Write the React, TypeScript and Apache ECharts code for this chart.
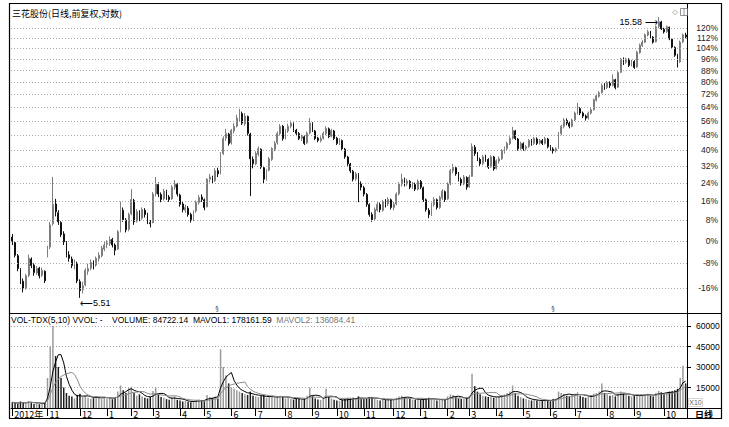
import React, { useEffect, useRef } from 'react';
import * as echarts from 'echarts';

const chartTitle = '三花股份(日线,前复权,对数)';
const volHeaderMain = 'VOL-TDX(5,10) VVOL: -    VOLUME: 84722.14  MAVOL1: 178161.59  ';
const volHeaderMa2 = 'MAVOL2: 136084.41';
const basePrice = 6.8;
const pctLevels = [120, 112, 104, 96, 88, 80, 72, 64, 56, 48, 40, 32, 24, 16, 8, 0, -8, -16];
const monthStartIdx = [0, 13, 25, 35, 44, 52, 62, 71, 81, 90, 101, 111, 120, 130, 141, 151, 161, 169, 179, 189, 199, 208, 220, 230, 241];
const monthLabels = ['2012年', '11', '12', '1', '2', '3', '4', '5', '6', '7', '8', '9', '10', '11', '12', '1', '2', '3', '4', '5', '6', '7', '8', '9', '10'];

// [open, close, low, high]
const candles: number[][] = [
  [6.90,6.78,6.70,6.98],[6.76,6.45,6.40,6.80],[6.44,6.14,6.08,6.48],[6.12,5.87,5.80,6.15],[5.86,5.70,5.62,5.92],[5.72,5.98,5.68,6.02],[5.99,6.38,5.95,6.47],[6.36,6.21,6.15,6.40],[6.22,6.05,5.98,6.26],[6.04,6.14,6.00,6.20],
  [6.15,5.98,5.92,6.18],[5.99,6.10,5.95,6.16],[6.08,5.87,5.82,6.10],[6.45,6.62,6.40,6.68],[6.65,7.22,6.60,7.30],[7.25,7.79,7.20,8.62],[7.80,7.58,7.45,7.95],[7.55,7.30,7.22,7.62],[7.28,6.96,6.90,7.32],[6.98,6.78,6.70,7.05],
  [6.76,6.45,6.40,6.80],[6.46,6.38,6.30,6.55],[6.36,6.21,6.15,6.42],[6.20,6.28,6.12,6.35],[6.26,5.87,5.82,6.30],[5.85,5.66,5.51,5.90],[5.68,5.76,5.60,5.85],[5.78,6.10,5.75,6.15],[6.08,6.14,6.00,6.25],[6.15,6.28,6.10,6.35],
  [6.27,6.21,6.12,6.33],[6.22,6.38,6.18,6.42],[6.37,6.45,6.30,6.52],[6.44,6.62,6.40,6.68],[6.60,6.70,6.55,6.78],[6.72,6.75,6.62,6.82],[6.74,6.83,6.68,6.92],[6.84,6.70,6.64,6.88],[6.70,6.57,6.45,6.74],[6.60,7.04,6.58,7.08],
  [7.05,7.64,7.02,7.87],[7.62,7.36,7.30,7.70],[7.35,7.09,7.02,7.40],[7.10,7.50,7.05,7.55],[7.52,7.93,7.48,8.24],[7.90,7.30,7.22,7.95],[7.32,7.58,7.28,7.65],[7.56,7.41,7.32,7.62],[7.40,7.64,7.36,7.70],[7.62,7.50,7.42,7.68],
  [7.50,7.30,7.24,7.55],[7.28,7.25,7.15,7.35],[7.28,8.09,7.26,8.15],[8.10,8.40,8.02,8.62],[8.38,8.09,8.00,8.45],[8.08,7.93,7.85,8.14],[7.95,8.18,7.90,8.25],[8.16,7.99,7.92,8.22],[8.00,7.93,7.86,8.06],[7.95,8.30,7.92,8.36],
  [8.30,8.40,8.22,8.52],[8.38,8.09,8.02,8.42],[8.06,7.79,7.72,8.10],[7.80,7.64,7.56,7.86],[7.62,7.70,7.55,7.78],[7.68,7.50,7.44,7.74],[7.50,7.36,7.28,7.55],[7.36,7.58,7.32,7.62],[7.60,7.85,7.55,7.90],[7.84,7.99,7.78,8.06],
  [8.00,7.93,7.86,8.08],[7.92,7.70,7.62,7.96],[7.72,8.55,7.70,8.58],[8.55,8.62,8.45,8.72],[8.60,8.49,8.40,8.66],[8.50,8.82,8.46,8.90],[8.82,8.72,8.62,8.92],[8.74,9.40,8.70,9.45],[9.40,9.94,9.35,10.02],[9.95,10.13,9.85,10.30],
  [10.10,9.76,9.68,10.15],[9.78,10.24,9.72,10.30],[10.22,10.40,10.12,10.52],[10.40,10.72,10.35,10.85],[10.70,10.92,10.60,11.09],[10.90,10.52,10.45,10.98],[10.50,10.80,10.42,10.92],[10.78,10.13,10.05,10.82],[10.10,9.22,8.03,10.15],[9.20,9.05,8.90,9.30],
  [9.05,9.40,9.00,9.48],[9.38,9.57,9.30,9.65],[9.55,8.94,8.88,9.58],[8.92,8.55,8.40,8.98],[8.55,8.82,8.50,8.88],[8.84,9.22,8.80,9.28],[9.20,9.57,9.15,9.62],[9.55,9.76,9.48,9.85],[9.78,10.13,9.72,10.20],[10.12,10.40,10.05,10.48],
  [10.40,9.94,9.86,10.45],[9.96,10.24,9.90,10.30],[10.22,10.40,10.15,10.50],[10.40,10.52,10.32,10.62],[10.50,10.24,10.18,10.55],[10.25,10.13,10.05,10.30],[10.12,9.94,9.88,10.18],[9.95,10.01,9.85,10.08],[10.00,9.76,9.70,10.05],[9.78,10.13,9.74,10.20],
  [10.15,10.52,10.10,10.72],[10.50,10.24,10.18,10.56],[10.22,9.94,9.88,10.26],[9.95,9.87,9.80,10.00],[9.86,9.94,9.80,10.02],[9.95,10.13,9.90,10.20],[10.12,10.32,10.06,10.40],[10.30,10.01,9.95,10.35],[10.02,10.24,9.98,10.30],[10.22,9.94,9.88,10.26],
  [9.95,9.76,9.70,10.00],[9.75,9.87,9.70,9.95],[9.86,9.57,9.50,9.90],[9.55,9.29,9.22,9.60],[9.28,9.05,8.98,9.32],[9.04,8.82,8.75,9.08],[8.80,8.55,8.48,8.85],[8.56,8.72,8.50,8.78],[8.70,8.40,7.85,8.74],[8.40,8.30,8.20,8.48],
  [8.28,8.09,8.02,8.34],[8.08,7.79,7.72,8.12],[7.78,7.50,7.44,7.82],[7.50,7.36,7.30,7.56],[7.38,7.64,7.34,7.70],[7.62,7.79,7.58,7.86],[7.78,7.64,7.56,7.84],[7.62,7.87,7.58,7.92],[7.86,7.79,7.70,7.94],[7.80,7.93,7.74,8.00],
  [7.92,7.70,7.64,7.96],[7.70,7.79,7.62,7.86],[7.80,8.09,7.76,8.14],[8.10,8.40,8.05,8.46],[8.40,8.55,8.32,8.72],[8.54,8.40,8.32,8.60],[8.40,8.49,8.34,8.56],[8.48,8.30,8.24,8.52],[8.30,8.40,8.25,8.46],[8.38,8.24,8.18,8.44],
  [8.24,8.49,8.20,8.54],[8.48,8.30,8.24,8.52],[8.28,7.93,7.86,8.32],[7.92,7.64,7.58,7.96],[7.62,7.50,7.40,7.68],[7.50,7.79,7.46,7.84],[7.78,7.93,7.72,8.00],[7.92,7.70,7.64,7.96],[7.70,7.99,7.66,8.04],[7.98,8.18,7.92,8.24],
  [8.16,7.93,7.86,8.20],[7.95,8.40,7.92,8.45],[8.40,8.82,8.36,8.88],[8.82,8.94,8.74,9.05],[8.92,8.72,8.66,8.98],[8.72,8.55,8.48,8.78],[8.54,8.40,8.34,8.60],[8.40,8.62,8.36,8.68],[8.60,8.30,8.22,8.64],[8.32,8.62,8.28,8.68],
  [8.64,9.64,8.62,9.76],[9.62,9.40,9.32,9.70],[9.38,9.22,9.14,9.45],[9.20,9.05,8.98,9.26],[9.06,9.29,9.00,9.36],[9.28,9.22,9.12,9.36],[9.20,8.94,8.88,9.24],[8.95,9.29,8.92,9.34],[9.28,8.88,8.82,9.32],[8.90,9.15,8.86,9.20],
  [9.14,9.22,9.06,9.30],[9.22,9.50,9.18,9.56],[9.48,9.57,9.40,9.65],[9.58,9.76,9.52,9.82],[9.75,9.94,9.70,10.02],[9.95,10.24,9.90,10.38],[10.22,9.94,9.88,10.26],[9.92,9.57,9.50,9.96],[9.58,9.76,9.52,9.82],[9.75,9.57,9.50,9.80],
  [9.58,9.64,9.50,9.70],[9.65,9.87,9.60,9.92],[9.86,9.76,9.68,9.92],[9.76,9.94,9.70,10.00],[9.92,9.76,9.70,9.98],[9.78,9.87,9.72,9.92],[9.86,9.76,9.70,9.92],[9.76,9.94,9.72,10.00],[9.92,9.64,9.58,9.96],[9.64,9.57,9.50,9.70],
  [9.56,9.50,9.40,9.62],[9.50,9.57,9.44,9.62],[9.58,10.13,9.56,10.18],[10.12,10.40,10.06,10.46],[10.40,10.64,10.32,10.72],[10.62,10.52,10.44,10.70],[10.52,10.40,10.32,10.58],[10.40,10.64,10.36,10.70],[10.65,10.92,10.60,10.98],[10.92,11.13,10.86,11.34],
  [11.10,10.92,10.84,11.16],[10.92,10.80,10.72,10.98],[10.80,10.72,10.62,10.86],[10.72,10.92,10.66,10.98],[10.92,11.05,10.86,11.12],[11.06,11.47,11.02,11.52],[11.45,11.64,11.40,11.72],[11.62,11.77,11.56,11.84],[11.78,12.09,11.74,12.18],[12.10,12.00,11.90,12.20],
  [12.00,12.22,11.94,12.30],[12.20,12.09,11.98,12.28],[12.10,12.37,12.05,12.60],[12.35,12.00,11.92,12.40],[12.02,12.69,11.98,12.75],[12.70,13.33,12.66,13.40],[13.30,13.18,13.05,13.42],[13.18,13.33,13.10,13.40],[13.32,13.03,12.95,13.38],[13.05,13.23,12.98,13.30],
  [13.22,12.93,12.86,13.28],[12.95,13.68,12.92,13.75],[13.66,14.04,13.60,14.12],[14.02,14.20,13.95,14.30],[14.20,14.59,14.15,14.66],[14.58,14.75,14.50,14.86],[14.74,14.48,14.40,14.80],[14.46,14.20,14.12,14.52],[14.22,15.03,14.18,15.10],[15.05,15.32,14.95,15.58],
  [15.30,14.92,14.85,15.36],[14.90,14.75,14.66,14.98],[14.76,15.03,14.70,15.10],[15.00,14.37,14.30,15.04],[14.36,13.94,13.86,14.40],[13.92,13.53,13.45,13.98],[13.55,13.18,12.93,13.60],[13.20,14.20,13.15,14.28],[14.22,14.59,14.15,14.66],[14.58,14.48,14.40,14.70],
];

const volumes = [
  4200,3600,3100,4800,3900,3300,5200,4100,3000,3500,
  2800,3200,4000,22000,45000,60000,38000,30000,22000,15000,
  11000,9000,8500,7000,9500,10500,8000,9000,7500,6800,
  7200,8800,7600,6500,8200,7000,7800,6400,7200,12000,
  16500,13000,11000,14500,15500,11000,9000,10000,8500,7500,
  7000,8000,12500,15000,10000,8000,7500,6500,6000,7800,
  8500,6000,5500,4800,5200,4500,4200,5000,5800,6200,
  5500,5000,9500,8000,7500,8500,7000,43000,30000,24000,
  18000,15000,14000,13000,12000,11000,10000,9500,12000,9000,
  8500,8000,8800,9500,7500,8000,8200,7600,8500,9000,
  8200,7000,7500,6800,6200,7000,6500,6000,6800,9000,
  15000,9000,7000,6200,5800,6500,14000,8000,7000,6000,
  5500,5200,6000,6500,7000,6800,7500,6500,8500,7000,
  6500,7200,7800,8000,7000,6000,5500,6200,5800,6500,
  6000,5800,7500,8500,9000,7800,7000,6500,6200,6000,
  6800,6000,6500,7000,7500,6500,6000,5500,6000,6500,
  6200,8500,10000,9500,8000,7000,6500,7000,7500,9000,
  25000,16000,12000,10000,9000,8500,8000,8500,7500,8000,
  8500,9500,10000,11000,12000,16500,11000,9000,8000,7000,
  6500,6000,5500,6000,5500,5000,5500,6000,5500,5000,
  6500,7000,12000,11000,10500,9000,8500,9500,10500,11500,
  9000,8000,7500,8500,9000,10500,11000,12000,18000,11000,
  10000,9000,9500,8500,10500,12000,10500,9500,9000,8500,
  9000,10000,9500,9000,9800,10500,9000,8500,11000,12500,
  11500,10000,11000,12000,12500,13000,14000,22000,31000,18000,
];

const FONT = 'Liberation Sans, Arial, sans-serif';
const CJK = 'Noto Sans CJK SC, sans-serif';

function movingAvg(arr: number[], n: number) {
  return arr.map((_, i) => {
    const s = Math.max(0, i - n + 1);
    const w = arr.slice(s, i + 1);
    return Math.round(w.reduce((a, b) => a + b, 0) / w.length);
  });
}

export default function App() {
  const ref = useRef<HTMLDivElement>(null);
  useEffect(() => {
    const chart = echarts.init(ref.current!, null, { renderer: 'svg' });
    const cats = candles.map((_, i) => String(i));
    const labelMap = new Map<number, string>();
    monthStartIdx.forEach((idx, k) => labelMap.set(idx, monthLabels[k]));
    const isTick = (i: number) => labelMap.has(i);

    let hiIdx = 0, loIdx = 0;
    candles.forEach((c, i) => {
      if (c[3] > candles[hiIdx][3]) hiIdx = i;
      if (c[2] < candles[loIdx][2]) loIdx = i;
    });
    const hiVal = candles[hiIdx][3];
    const loVal = candles[loIdx][2];

    const volData = volumes.map((v, i) => ({
      value: v,
      itemStyle: { color: candles[i][1] >= candles[i][0] ? '#9a9a9a' : '#1c1c1c' },
    }));
    const ma1 = movingAvg(volumes, 5);
    const ma2 = movingAvg(volumes, 10);

    const dotted = { type: [1, 2], color: '#a8a8a8', width: 1 };

    const option: any = {
      animation: false,
      backgroundColor: '#fff',
      textStyle: { fontFamily: FONT },
      grid: [
        { left: 11, right: 42, top: 15, height: 296 },
        { left: 11, right: 42, top: 326, height: 82 },
      ],
      xAxis: [
        { type: 'category', gridIndex: 0, data: cats, boundaryGap: true, show: false },
        {
          type: 'category', gridIndex: 1, data: cats, boundaryGap: true,
          axisLine: { show: true, lineStyle: { color: '#000', width: 1 } },
          axisTick: { show: true, interval: (i: number) => isTick(i), alignWithLabel: true, length: 8, lineStyle: { color: '#000' } },
          axisLabel: {
            interval: (i: number) => isTick(i),
            formatter: (_v: string, i: number) => labelMap.get(i) ?? '',
            align: 'left', margin: 2, fontSize: 9, color: '#000', padding: [0, 0, 0, 2], fontFamily: CJK,
          },
          splitLine: { show: false },
        },
      ],
      yAxis: [
        { type: 'log', gridIndex: 0, min: 5.248, max: 15.70, show: false, splitLine: { show: false } },
        {
          type: 'value', gridIndex: 1, position: 'right', min: 0, max: 60000, interval: 15000,
          axisLine: { show: false },
          axisTick: { show: true, length: 4, lineStyle: { color: '#000' } },
          axisLabel: { showMinLabel: false, fontSize: 8.5, color: '#000', margin: 9, fontFamily: FONT, formatter: (v: number) => String(v) },
          splitLine: { show: true, lineStyle: dotted },
        },
      ],
      series: [
        {
          type: 'candlestick', xAxisIndex: 0, yAxisIndex: 0, data: candles, barWidth: '50%',
          itemStyle: { color: '#a3a3a3', color0: '#111', borderColor: '#7d7d7d', borderColor0: '#111', borderWidth: 1 },
          markLine: {
            silent: true, symbol: ['none', 'none'], animation: false,
            lineStyle: dotted,
            label: { position: 'end', formatter: '{b}', color: '#222', fontSize: 8.5, distance: 31, align: 'right', fontFamily: FONT },
            emphasis: { disabled: true },
            data: pctLevels.map((p) => ({ name: p + '%', yAxis: basePrice * (1 + p / 100) })),
          },
          markPoint: {
            symbol: 'circle', symbolSize: 0, silent: true,
            label: { color: '#000', fontSize: 9, fontFamily: FONT },
            data: [
              { coord: [hiIdx, hiVal], value: hiVal, label: { position: 'left', distance: 1, offset: [0, 5], formatter: hiVal.toFixed(2) + ' ⟶' } },
              { coord: [loIdx, loVal], value: loVal, label: { position: 'right', distance: 0, offset: [0, 5], formatter: '⟵' + loVal.toFixed(2) } },
            ],
          },
        },
        { type: 'bar', xAxisIndex: 1, yAxisIndex: 1, data: volData, barWidth: '55%' },
        { type: 'line', xAxisIndex: 1, yAxisIndex: 1, data: ma1, symbol: 'none', lineStyle: { color: '#000', width: 1 } },
        { type: 'line', xAxisIndex: 1, yAxisIndex: 1, data: ma2, symbol: 'none', lineStyle: { color: '#8a8a8a', width: 1 } },
      ],
      graphic: [
        { type: 'rect', shape: { x: 9.5, y: 3.5, width: 712, height: 415 }, style: { fill: 'none', stroke: '#000', lineWidth: 1.2 }, silent: true },
        { type: 'line', shape: { x1: 9, y1: 313.5, x2: 721, y2: 313.5 }, style: { stroke: '#000', lineWidth: 1 }, silent: true },
        { type: 'line', shape: { x1: 687.5, y1: 3, x2: 687.5, y2: 419 }, style: { stroke: '#000', lineWidth: 1 }, silent: true },
        { type: 'line', shape: { x1: 687, y1: 408.5, x2: 721, y2: 408.5 }, style: { stroke: '#000', lineWidth: 1 }, silent: true },
        { type: 'text', x: 12, y: 13, style: { text: chartTitle, fontSize: 9, fontFamily: CJK, fill: '#000', verticalAlign: 'middle' }, silent: true },
        {
          type: 'text', x: 11, y: 320,
          style: {
            text: '{a|' + volHeaderMain + '}{b|' + volHeaderMa2 + '}',
            verticalAlign: 'middle',
            rich: {
              a: { fontSize: 8.5, fontFamily: FONT, fill: '#000' },
              b: { fontSize: 8.5, fontFamily: FONT, fill: '#777' },
            },
          },
          silent: true,
        },
        { type: 'text', x: 704, y: 414, style: { text: '日线', fontSize: 9, fontWeight: 'bold', fontFamily: CJK, fill: '#000', align: 'center', verticalAlign: 'middle' }, silent: true },
        { type: 'rect', shape: { x: 688.5, y: 398.5, width: 14, height: 8 }, style: { fill: 'none', stroke: '#bbb', lineWidth: 0.6 }, silent: true },
        { type: 'text', x: 695.5, y: 402.5, style: { text: 'X10', fontSize: 7, fontFamily: FONT, fill: '#666', align: 'center', verticalAlign: 'middle' }, silent: true },
        { type: 'text', x: 675, y: 12, style: { text: '◇', fontSize: 7, fontFamily: 'DejaVu Sans', fill: '#777', align: 'center', verticalAlign: 'middle' }, silent: true },
        { type: 'rect', shape: { x: 680.5, y: 8.5, width: 7, height: 7 }, style: { fill: 'none', stroke: '#777', lineWidth: 0.8 }, silent: true },
        { type: 'line', shape: { x1: 684, y1: 8.5, x2: 684, y2: 15.5 }, style: { stroke: '#777', lineWidth: 0.8 }, silent: true },
        { type: 'text', x: 217, y: 309, style: { text: '§', fontSize: 7, fontFamily: 'DejaVu Sans', fill: '#555', align: 'center', verticalAlign: 'middle' }, silent: true },
        { type: 'text', x: 553, y: 309, style: { text: '§', fontSize: 7, fontFamily: 'DejaVu Sans', fill: '#555', align: 'center', verticalAlign: 'middle' }, silent: true },
      ],
    };
    chart.setOption(option);
    return () => chart.dispose();
  }, []);
  return <div ref={ref} style={{ position: 'fixed', left: 0, top: 0, width: 729, height: 427, background: '#fff' }} />;
}
